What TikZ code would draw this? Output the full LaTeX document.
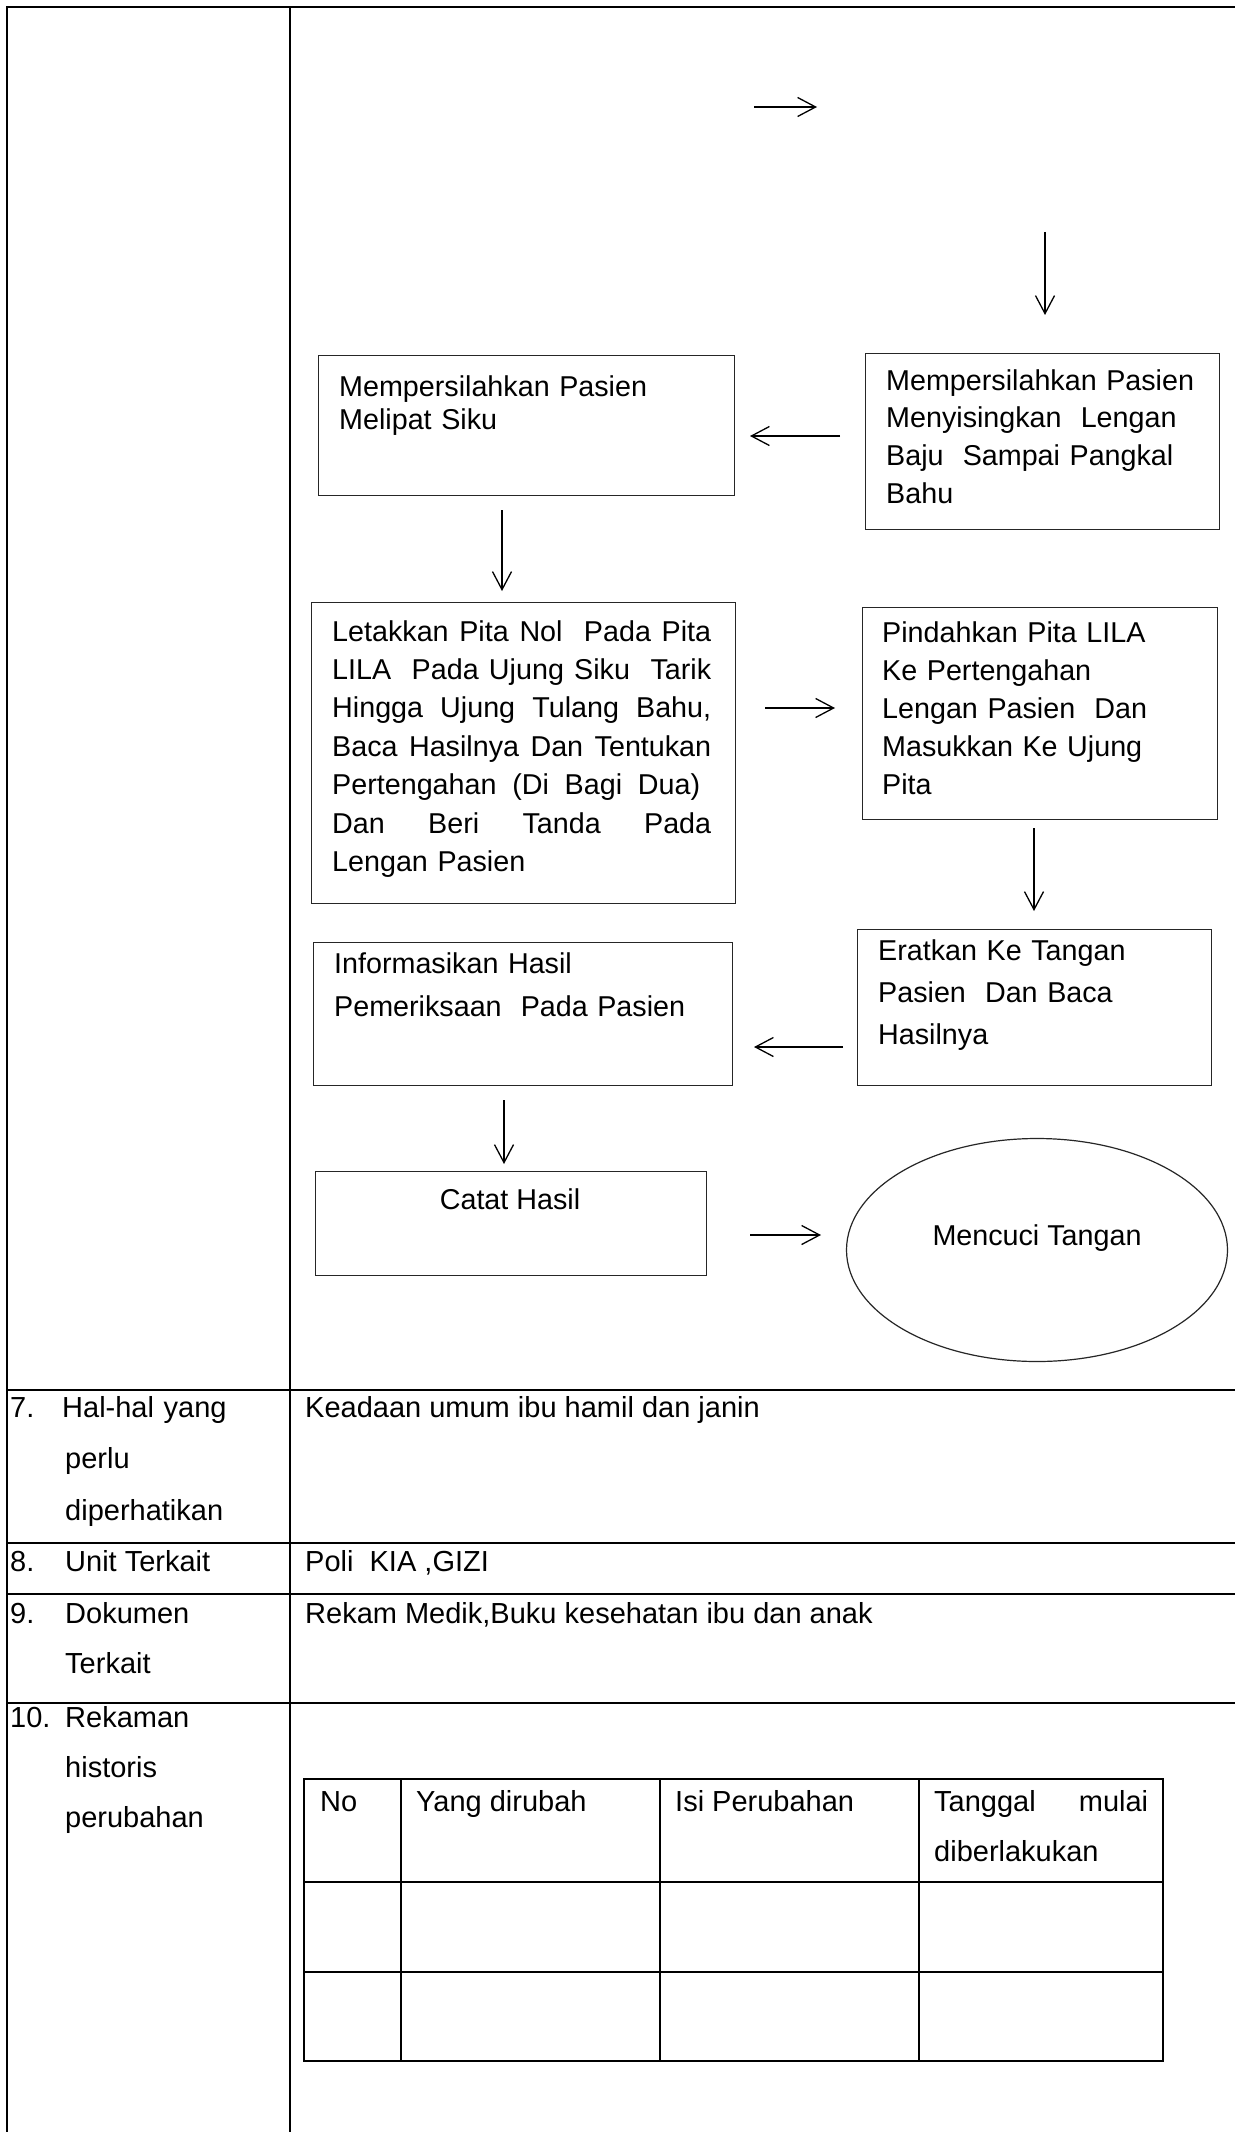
\documentclass[tikz,border=0pt]{standalone}
\usepackage{fontspec}
\setmainfont{Liberation Sans}
\usetikzlibrary{arrows.meta,shapes.geometric}
% one justified line, stretched to the given width (spaces made stretchable)
\newcommand{\justlineto}[2]{\makebox[#1][s]{\spaceskip=.278em plus 1fil\relax#2}}
\newcommand{\justline}[1]{\justlineto{\linewidth}{#1}}
\begin{document}
\begin{tikzpicture}[x=1pt,y=-1pt,
  frame/.style={line width=2pt,line cap=rect},
  grid/.style={line width=1.4pt},
  stepbox/.style={draw=black!85,line width=1.2pt,rectangle,inner sep=0pt,anchor=north west},
  txt/.style={anchor=base west,inner sep=0pt,align=left,
              font=\fontsize{28.7}{#1}\selectfont},
  txt/.default=34,
  rowtxt/.style={anchor=base west,inner sep=0pt,align=left,
              font=\fontsize{29}{#1}\selectfont},
  rowtxt/.default=34,
  flow/.style={line width=1.3pt,
               -{Straight Barb[length=18pt,width=19pt,line width=1.3pt]}},
]
\useasboundingbox (0,0) rectangle (1234,2132);
\fill[white] (0,0) rectangle (1234,2132);

% ---- outer form table ----
\draw[frame] (7,2132) -- (7,7.5) -- (1234,7.5);
\draw[frame] (290,7.5) -- (290,2132);
\foreach \yy in {1390,1543,1594,1703}
  \draw[frame] (7,\yy) -- (1234,\yy);

% ---- flowchart steps ----
\node[stepbox,minimum width=416pt,minimum height=140pt] (b1) at (318,355) {};
\node[txt=33,text width=380pt] (b1t) at (339,396)
  {Mempersilahkan Pasien\\Melipat Siku};

\node[stepbox,minimum width=354pt,minimum height=176pt] (b2) at (865,353) {};
\node[txt=37.7,text width=330pt] (b2t) at (886,390)
  {Mempersilahkan Pasien\\Menyisingkan\ \ Lengan\\Baju\ \ Sampai Pangkal\\Bahu};

\node[stepbox,minimum width=424pt,minimum height=301pt] (b3) at (311,602) {};
\node[txt=38.4,text width=379pt] (b3t) at (332,641)
  {\justline{Letakkan Pita Nol\ \ Pada Pita}\\
   \justline{LILA\ \ Pada Ujung Siku\ \ Tarik}\\
   \justline{Hingga Ujung Tulang Bahu,}\\
   \justline{Baca Hasilnya Dan Tentukan}\\
   \justlineto{368pt}{Pertengahan (Di Bagi Dua)}\\
   \justline{Dan Beri Tanda Pada}\\
   Lengan Pasien};

\node[stepbox,minimum width=355pt,minimum height=212pt] (b4) at (862,607) {};
\node[txt=38,text width=320pt] (b4t) at (882,642)
  {Pindahkan Pita LILA\\Ke Pertengahan\\Lengan Pasien\ \ Dan\\Masukkan Ke Ujung\\Pita};

\node[stepbox,minimum width=354pt,minimum height=156pt] (b5) at (857,929) {};
\node[txt=42,text width=320pt] (b5t) at (878,960)
  {Eratkan Ke Tangan\\Pasien\ \ Dan Baca\\Hasilnya};

\node[stepbox,minimum width=419pt,minimum height=143pt] (b6) at (313,942) {};
\node[txt=43,text width=380pt] (b6t) at (334,973)
  {Informasikan Hasil\\Pemeriksaan\ \ Pada Pasien};

\node[stepbox,minimum width=391pt,minimum height=104pt] (b7) at (315,1171) {};
\node[txt,anchor=base] (b7t) at (510,1209) {Catat Hasil};

\node[ellipse,draw=black!85,line width=1.2pt,inner sep=0pt,
      minimum width=381pt,minimum height=223pt,
      font=\fontsize{28.7}{34}\selectfont,text height=20pt,text depth=30pt]
  (b8) at (1037,1250) {Mencuci Tangan};

% ---- connectors ----
\coordinate (a1s) at (754,107);  \coordinate (a1e) at (817,107);
\coordinate (a2s) at (1045,232); \coordinate (a2e) at (1045,315);
\coordinate (a3s) at (840,436);  \coordinate (a3e) at (750,436);
\coordinate (a4s) at (502,510);  \coordinate (a4e) at (502,591);
\coordinate (a5s) at (765,708);  \coordinate (a5e) at (835,708);
\coordinate (a6s) at (1034,828); \coordinate (a6e) at (1034,911);
\coordinate (a7s) at (843,1047); \coordinate (a7e) at (754,1047);
\coordinate (a8s) at (504,1100); \coordinate (a8e) at (504,1164);
\coordinate (a9s) at (750,1235); \coordinate (a9e) at (821,1235);
\foreach \k in {1,...,9}
  \draw[flow] (a\k s) -- (a\k e);

% ---- rows 7 to 10 ----
\node[rowtxt] (n7) at (10,1417) {7.};
\node[rowtxt=51.5,text width=220pt] (l7) at (62,1417)
  {Hal-hal yang\\\hspace*{3pt}perlu\\\hspace*{3pt}diperhatikan};
\node[rowtxt] (r7) at (305,1417) {Keadaan umum ibu hamil dan janin};

\node[rowtxt] (n8) at (10,1571) {8.};
\node[rowtxt] (l8) at (65,1571) {Unit Terkait};
\node[rowtxt] (r8) at (305,1571) {Poli\ \ KIA ,GIZI};

\node[rowtxt] (n9) at (10,1623) {9.};
\node[rowtxt=50,text width=220pt] (l9) at (65,1623) {Dokumen\\Terkait};
\node[rowtxt] (r9) at (305,1623) {Rekam Medik,Buku kesehatan ibu dan anak};

\node[rowtxt] (n10) at (10,1727) {10.};
\node[rowtxt=50,text width=220pt] (l10) at (65,1727) {Rekaman\\historis\\perubahan};

% ---- change history table ----
\draw[grid] (304,1779) rectangle (1163,2061);
\foreach \xx in {401,660,919}
  \draw[grid] (\xx,1779) -- (\xx,2061);
\foreach \yy in {1882,1972}
  \draw[grid] (304,\yy) -- (1163,\yy);
\node[rowtxt] (h1) at (320,1811) {No};
\node[rowtxt] (h2) at (416,1811) {Yang dirubah};
\node[rowtxt] (h3) at (675,1811) {Isi Perubahan};
\node[rowtxt=50,text width=214pt] (h4) at (934,1811)
  {\justline{Tanggal mulai}\\diberlakukan};
\end{tikzpicture}
\end{document}
